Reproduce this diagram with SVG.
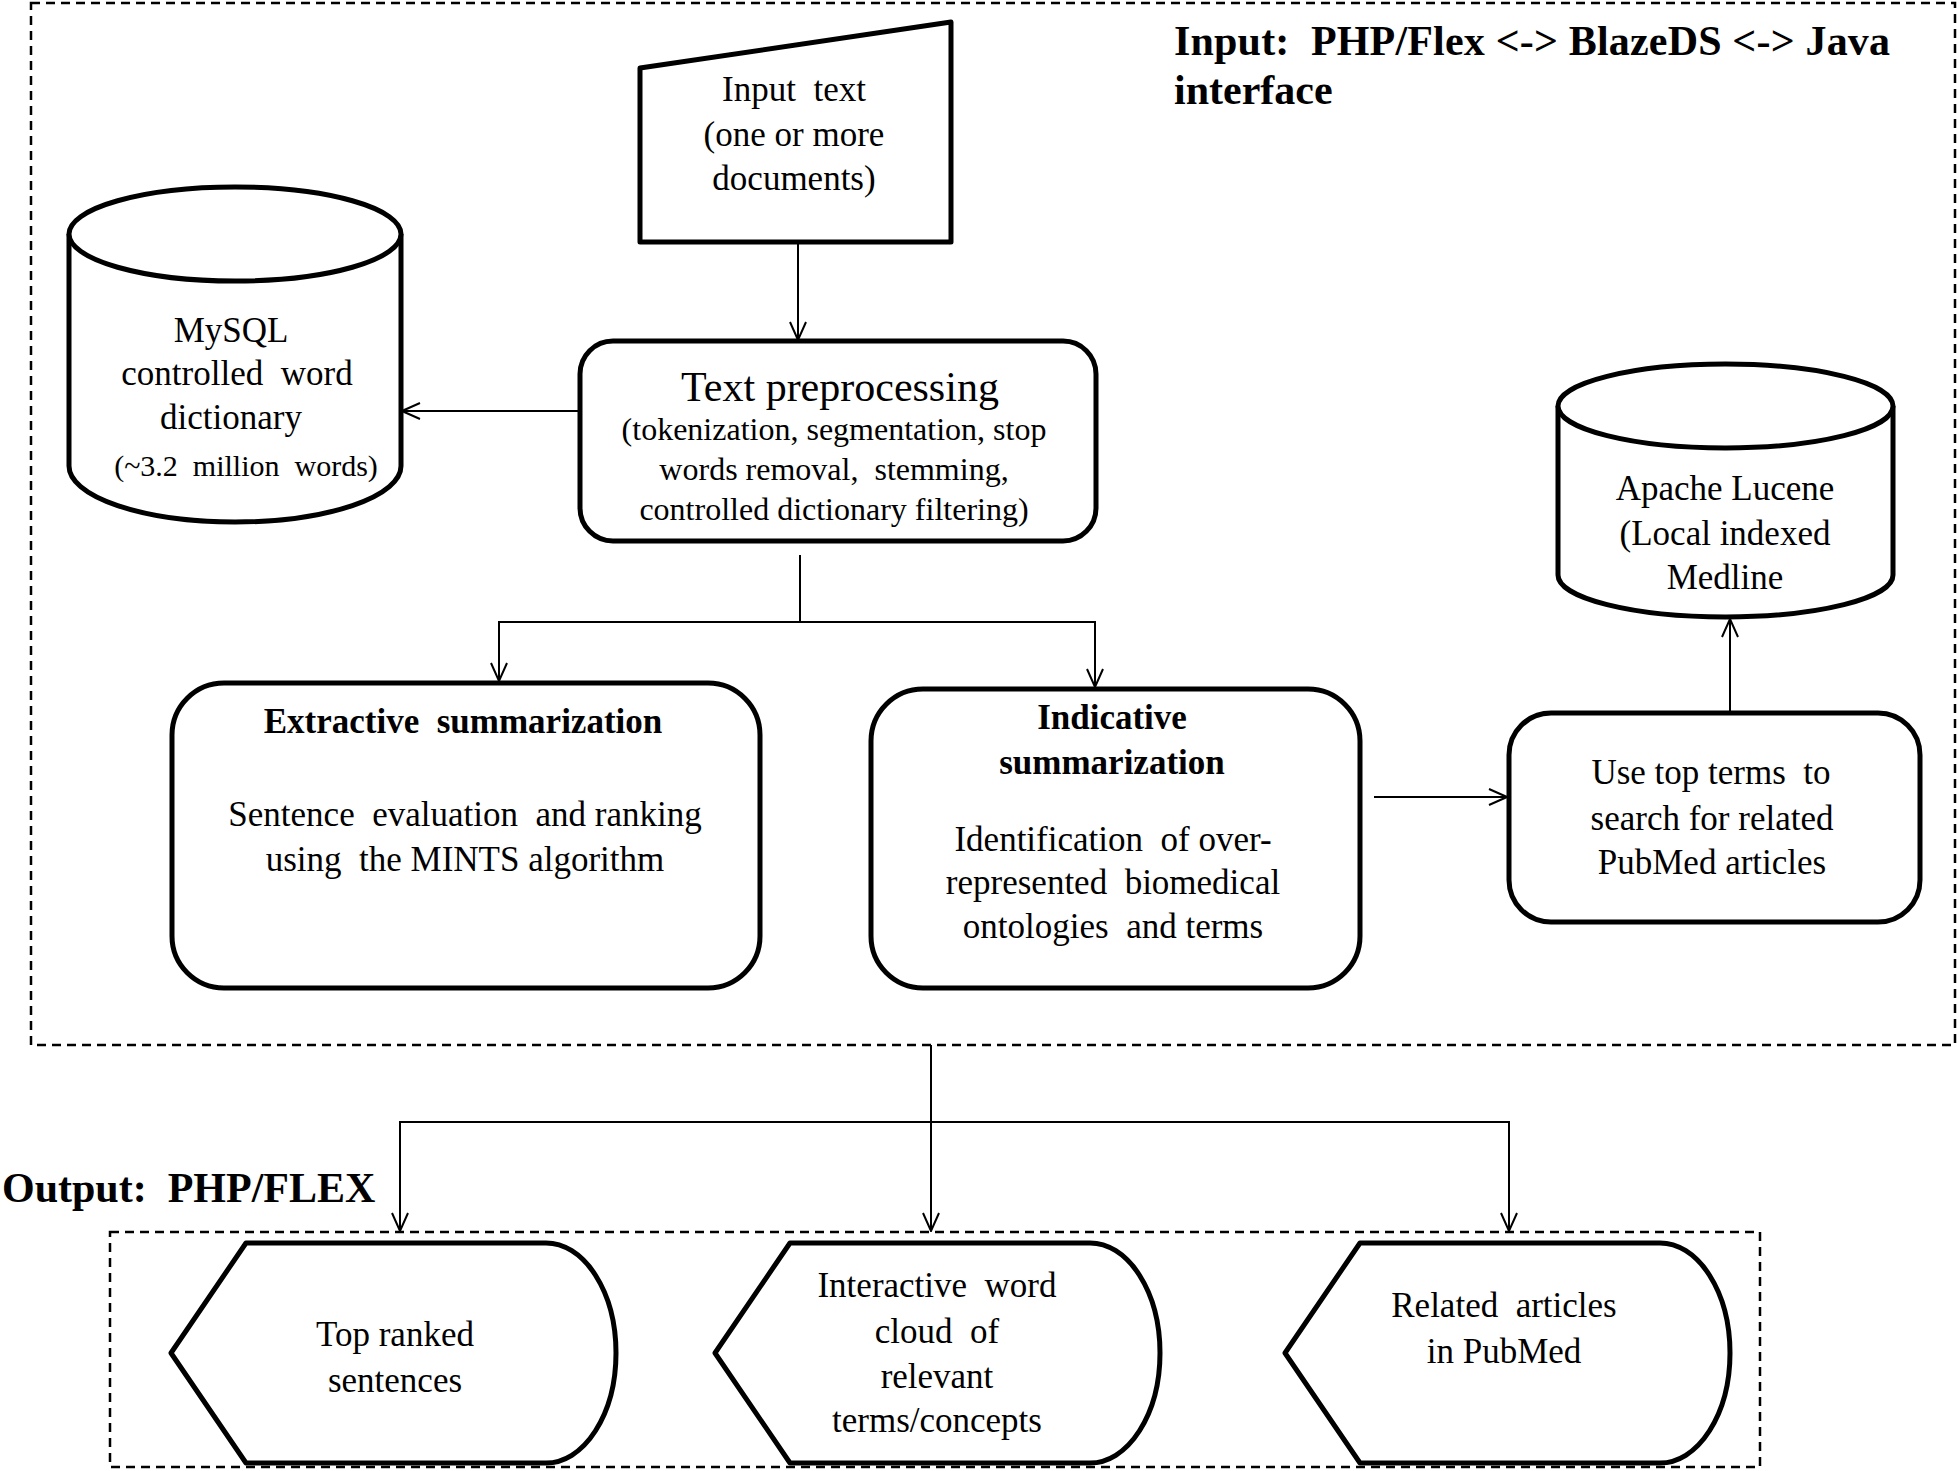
<svg xmlns="http://www.w3.org/2000/svg" width="1959" height="1471" viewBox="0 0 1959 1471">
<style>
text{font-family:"Liberation Serif","Times New Roman",serif;font-size:35px;fill:#000;text-anchor:middle;white-space:pre}
.b{font-weight:bold}
.title{font-weight:bold;font-size:42px;text-anchor:start}
.node{fill:#fff;stroke:#000;stroke-width:5;stroke-linejoin:round}
.dash{fill:none;stroke:#000;stroke-width:2.5;stroke-dasharray:9 6}
.conn{fill:none;stroke:#000;stroke-width:2}
</style>
<defs>
<marker id="arr" markerUnits="userSpaceOnUse" viewBox="0 0 20 18" refX="19" refY="9" markerWidth="20" markerHeight="18" orient="auto">
<path d="M1,1 L19,9 L1,17" fill="none" stroke="#000" stroke-width="2"/>
</marker>
</defs>
<rect width="1959" height="1471" fill="#fff"/>
<g id="input-frame">
<rect class="dash" x="31" y="3" width="1924" height="1042"/>
<text class="title" x="1174" y="55" textLength="716" xml:space="preserve">Input:  PHP/Flex &lt;-&gt; BlazeDS &lt;-&gt; Java</text>
<text class="title" x="1174" y="104">interface</text>
</g>
<g id="output-frame">
<rect class="dash" x="110" y="1232" width="1650" height="235"/>
<text class="title" x="2" y="1202" xml:space="preserve">Output:  PHP/FLEX</text>
</g>
<g id="connectors">
<path class="conn" d="M798,242 V340" marker-end="url(#arr)"/>
<path class="conn" d="M580,411 H402" marker-end="url(#arr)"/>
<path class="conn" d="M800,555 V622 H499 V681" marker-end="url(#arr)"/>
<path class="conn" d="M800,622 H1095 V687" marker-end="url(#arr)"/>
<path class="conn" d="M1374,797 H1507" marker-end="url(#arr)"/>
<path class="conn" d="M1730,713 V619" marker-end="url(#arr)"/>
<path class="conn" d="M931,1045 V1231" marker-end="url(#arr)"/>
<path class="conn" d="M931,1122 H1509 V1231" marker-end="url(#arr)"/>
<path class="conn" d="M931,1122 H400 V1231" marker-end="url(#arr)"/>
</g>
<g id="input-text">
<polygon class="node" points="640,68 951,22 951,242 640,242"/>
<text x="794" y="101" xml:space="preserve">Input  text</text>
<text x="794" y="146">(one or more</text>
<text x="794" y="190">documents)</text>
</g>
<g id="mysql">
<path class="node" d="M69,234 A166,47 0 0,1 401,234 L401,466 A166,56 0 0,1 69,466 Z"/>
<path class="node" d="M69,234 A166,47 0 0,0 401,234" fill="none"/>
<text x="231" y="342">MySQL</text>
<text x="237" y="385" xml:space="preserve">controlled  word</text>
<text x="231" y="429">dictionary</text>
<text x="246" y="476" style="font-size:30px" xml:space="preserve">(~3.2  million  words)</text>
</g>
<g id="preprocessing">
<rect class="node" x="580" y="341" width="516" height="200" rx="33"/>
<text x="840" y="401" style="font-size:42px">Text preprocessing</text>
<text x="834" y="440" style="font-size:32px">(tokenization, segmentation, stop</text>
<text x="834" y="480" style="font-size:32px" xml:space="preserve">words removal,  stemming,</text>
<text x="834" y="520" style="font-size:32px">controlled dictionary filtering)</text>
</g>
<g id="extractive">
<rect class="node" x="172" y="683" width="588" height="305" rx="52"/>
<text class="b" x="463" y="733" xml:space="preserve">Extractive  summarization</text>
<text x="465" y="826" xml:space="preserve">Sentence  evaluation  and ranking</text>
<text x="465" y="871" xml:space="preserve">using  the MINTS algorithm</text>
</g>
<g id="indicative">
<rect class="node" x="871" y="689" width="489" height="299" rx="52"/>
<text class="b" x="1112" y="729">Indicative</text>
<text class="b" x="1112" y="774">summarization</text>
<text x="1113" y="851" xml:space="preserve">Identification  of over-</text>
<text x="1113" y="894" xml:space="preserve">represented  biomedical</text>
<text x="1113" y="938" xml:space="preserve">ontologies  and terms</text>
</g>
<g id="top-terms">
<rect class="node" x="1509" y="713" width="411" height="209" rx="42"/>
<text x="1711" y="784" xml:space="preserve">Use top terms  to</text>
<text x="1712" y="830">search for related</text>
<text x="1712" y="874">PubMed articles</text>
</g>
<g id="lucene">
<path class="node" d="M1558,406 A167.5,42 0 0,1 1893,406 L1893,575 A167.5,42 0 0,1 1558,575 Z"/>
<path class="node" d="M1558,406 A167.5,42 0 0,0 1893,406" fill="none"/>
<text x="1725" y="500">Apache Lucene</text>
<text x="1725" y="545">(Local indexed</text>
<text x="1725" y="589">Medline</text>
</g>
<g id="top-ranked">
<path class="node" d="M171,1353 L246,1243 H546 A70,110 0 0,1 546,1463 H246 Z"/>
<text x="395" y="1346">Top ranked</text>
<text x="395" y="1392">sentences</text>
</g>
<g id="word-cloud">
<path class="node" d="M715,1353 L790,1243 H1090 A70,110 0 0,1 1090,1463 H790 Z"/>
<text x="937" y="1297" xml:space="preserve">Interactive  word</text>
<text x="937" y="1343" xml:space="preserve">cloud  of</text>
<text x="937" y="1388">relevant</text>
<text x="937" y="1432">terms/concepts</text>
</g>
<g id="related">
<path class="node" d="M1285,1353 L1360,1243 H1660 A70,110 0 0,1 1660,1463 H1360 Z"/>
<text x="1504" y="1317" xml:space="preserve">Related  articles</text>
<text x="1504" y="1363">in PubMed</text>
</g>
</svg>
